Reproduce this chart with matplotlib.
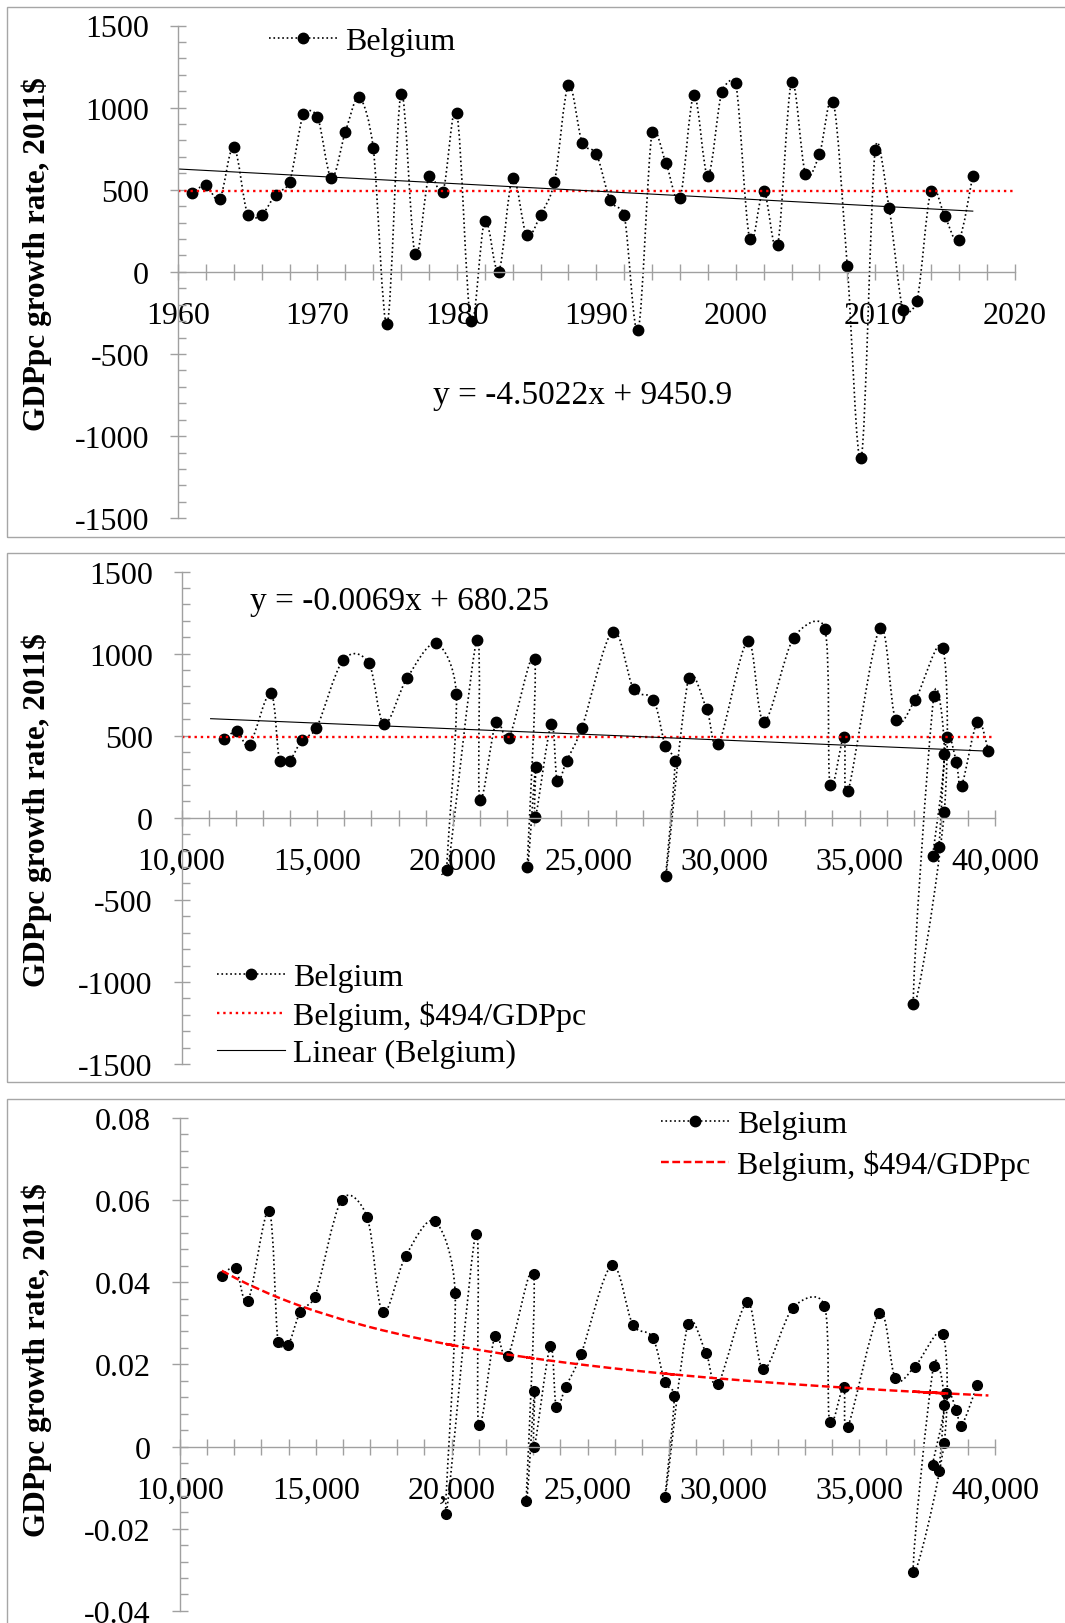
import numpy as np
import matplotlib
matplotlib.use('Agg')
import matplotlib.pyplot as plt
from matplotlib.path import Path
from matplotlib.patches import PathPatch, Rectangle
from matplotlib.lines import Line2D
from matplotlib.ticker import MultipleLocator

plt.rcParams['font.family'] = ['Liberation Serif', 'DejaVu Serif']
plt.rcParams['axes.unicode_minus'] = False

# ---- data ----
years = list(range(1961, 2018))
# GDPpc growth, 2011$ (1961..2018; the top panel stops at 2017)
growth = [478, 526, 446, 763, 348, 348, 471, 547, 960, 945,
          572, 851, 1062, 755, -318, 1085, 110, 581, 489, 965,
          -297, 312, 2, 572, 226, 347, 548, 1135, 782, 719,
          435, 347, -353, 850, 662, 448, 1076, 586, 1095, 1152,
          201, 495, 163, 1154, 598, 715, 1034, 33, -1133, 740,
          389, -233, -175, 494, 338, 195, 585, 408]
# GDPpc level, 2011$ (1961..2018)
gdppc = [11545, 12053, 12510, 13285, 13615, 13984, 14428, 14974, 15952, 16892,
         17464, 18314, 19381, 20130, 19800, 20892, 20993, 21590, 22073, 23020,
         22750, 23050, 23045, 23632, 23850, 24196, 24760, 25889, 26670, 27400,
         27836, 28194, 27862, 28695, 29362, 29797, 30874, 31475, 32566, 33717,
         33909, 34421, 34576, 35741, 36330, 37040, 38075, 38120, 36987, 37735,
         38125, 37703, 37920, 38207, 38570, 38760, 39342, 39750]
# growth relative to GDPpc (1961..2017)
rate = [0.0415, 0.0434, 0.0355, 0.0574, 0.0255, 0.0247, 0.0327, 0.0365, 0.0600, 0.0558,
        0.0327, 0.0464, 0.0548, 0.0374, -0.0163, 0.0518, 0.0052, 0.0268, 0.0221, 0.0420,
        -0.0133, 0.0135, 0.0000, 0.0244, 0.0097, 0.0145, 0.0224, 0.0441, 0.0296, 0.0265,
        0.0158, 0.0124, -0.0124, 0.0298, 0.0227, 0.0152, 0.0351, 0.0188, 0.0338, 0.0343,
        0.0059, 0.0146, 0.0048, 0.0325, 0.0166, 0.0194, 0.0273, 0.0008, -0.0306, 0.0197,
        0.0102, -0.0045, -0.0060, 0.0130, 0.0090, 0.0051, 0.0150]
benchmark = 494  # $494 per GDPpc

# trend lines as printed on the chart
trend1 = (-4.5022, 9450.9)
trend1_x = [1960, 2017]
trend2 = (-0.0069, 680.25)
trend2_x = [11070, 39750]

p1_xticks = [1960, 1970, 1980, 1990, 2000, 2010, 2020]
p12_yticks = [-1500, -1000, -500, 0, 500, 1000, 1500]
p23_xticks = [10000, 15000, 20000, 25000, 30000, 35000, 40000]
p23_xlabels = ['10,000', '15,000', '20,000', '25,000', '30,000', '35,000', '40,000']
p3_yticks = [-0.04, -0.02, 0, 0.02, 0.04, 0.06, 0.08]
p3_ylabels = ['-0.04', '-0.02', '0', '0.02', '0.04', '0.06', '0.08']

ylab = 'GDPpc growth rate, 2011$'

# ---- layout ----
W, H = 1065, 1624
GRAY = '#A0A0A0'
FS = 23
fig = plt.figure(figsize=(W / 100, H / 100), dpi=100)


def fx(px):
    return px / W


def fy(py):
    return 1 - py / H


def add_panel(left, right, top, bottom):
    return fig.add_axes([fx(left), fy(bottom), (right - left) / W, (bottom - top) / H])


def style_axes(ax, xminor, yminor):
    for s in ['top', 'right']:
        ax.spines[s].set_visible(False)
    ax.spines['bottom'].set_position(('data', 0))
    for s in ['left', 'bottom']:
        ax.spines[s].set_color(GRAY)
        ax.spines[s].set_linewidth(1.0)
    ax.xaxis.set_minor_locator(MultipleLocator(xminor))
    ax.yaxis.set_minor_locator(MultipleLocator(yminor))
    ax.tick_params(which='major', direction='inout', length=11.5, width=1.0,
                   color=GRAY, labelsize=FS, pad=15)
    ax.tick_params(axis='x', which='minor', direction='inout', length=11.5, width=1.0, color=GRAY)
    ax.tick_params(axis='y', which='minor', direction='in', length=5.8, width=1.0, color=GRAY)
    ax.patch.set_visible(False)


def smooth(ax, x, y, **kw):
    # Excel-like smoothed line: cubic Bezier through the points, worked out in
    # screen space, with each control arm capped at half the segment length
    pts = ax.transData.transform(np.column_stack([x, y]).astype(float))
    n = len(pts)
    verts = [pts[0]]
    codes = [Path.MOVETO]
    for i in range(n - 1):
        p0 = pts[max(i - 1, 0)]
        p1 = pts[i]
        p2 = pts[i + 1]
        p3 = pts[min(i + 2, n - 1)]
        d12 = np.hypot(*(p2 - p1))
        a = (p2 - p0) / 6
        b = (p3 - p1) / 6
        la, lb = np.hypot(*a), np.hypot(*b)
        if la > d12 / 2:
            a = a * (d12 / 2) / la
        if lb > d12 / 2:
            b = b * (d12 / 2) / lb
        verts += [p1 + a, p2 - b, p2]
        codes += [Path.CURVE4] * 3
    verts = ax.transData.inverted().transform(np.array(verts))
    ax.add_patch(PathPatch(Path(verts, codes), fill=False, **kw))


def border(top, bottom):
    fig.patches.append(Rectangle((fx(7), fy(bottom)), fx(1075) - fx(7), (bottom - top) / H,
                                 transform=fig.transFigure, fill=False, ec='#A6A6A6', lw=1.0))


dot_kw = dict(ec='black', lw=1.2, ls=':')
h_bel = Line2D([], [], color='black', lw=1.2, ls=':', marker='o', ms=7.5)
h_red = Line2D([], [], color='red', lw=1.7, ls=':')
h_red_dash = Line2D([], [], color='red', lw=1.75, ls=(0, (3.2, 1.45)))
h_lin = Line2D([], [], color='black', lw=0.8)
leg_kw = dict(frameon=False, fontsize=FS, borderpad=0, borderaxespad=0, handlelength=2.15,
              handletextpad=0.25, numpoints=1, bbox_transform=fig.transFigure, loc='center left')

border(8, 538)
border(554, 1083)
border(1100, 1700)

# ---- panel 1: growth vs year ----
ax1 = add_panel(178, 1014.6, 26.5, 519.3)
ax1.set_xlim(1960, 2020)
ax1.set_ylim(-1500, 1500)
n1 = len(years)
smooth(ax1, years, growth[:n1], **dot_kw)
ax1.plot(years, growth[:n1], 'o', color='black', ms=7.5)
ax1.axhline(benchmark, color='red', lw=1.7, ls=':')
t1 = np.array(trend1_x, dtype=float)
ax1.plot(t1, trend1[0] * t1 + trend1[1], color='black', lw=0.8)
ax1.set_xticks(p1_xticks)
ax1.set_yticks(p12_yticks)
style_axes(ax1, 2, 100)
ax1.legend([h_bel], ['Belgium'], bbox_to_anchor=(fx(268.6), fy(42.5)), **leg_kw)
fig.text(fx(433), fy(396), 'y = -4.5022x + 9450.9', fontsize=24, va='center', ha='left')

# ---- panel 2: growth vs GDPpc ----
ax2 = add_panel(181.6, 995.2, 572.6, 1065)
ax2.set_xlim(10000, 40000)
ax2.set_ylim(-1500, 1500)
smooth(ax2, gdppc, growth, **dot_kw)
ax2.plot(gdppc, growth, 'o', color='black', ms=7.5)
ax2.axhline(benchmark, color='red', lw=1.7, ls=':')
t2 = np.array(trend2_x, dtype=float)
ax2.plot(t2, trend2[0] * t2 + trend2[1], color='black', lw=0.8)
ax2.set_xticks(p23_xticks, p23_xlabels)
ax2.set_yticks(p12_yticks)
style_axes(ax2, 1000, 100)
ax2.legend([h_bel, h_red, h_lin], ['Belgium', 'Belgium, $494/GDPpc', 'Linear (Belgium)'],
           bbox_to_anchor=(fx(216.7), fy(1016.5)), labelspacing=0.26, **leg_kw)
fig.text(fx(249.7), fy(601.8), 'y = -0.0069x + 680.25', fontsize=24, va='center', ha='left')

# ---- panel 3: growth rate vs GDPpc ----
ax3 = add_panel(179.8, 995.2, 1118.8, 1611.9)
ax3.set_xlim(10000, 40000)
ax3.set_ylim(-0.04, 0.08)
n3 = len(rate)
smooth(ax3, gdppc[:n3], rate, **dot_kw)
ax3.plot(gdppc[:n3], rate, 'o', color='black', ms=7)
g = np.array(gdppc, dtype=float)
ax3.plot(g, benchmark / g, color='red', lw=1.75, ls=(0, (3.2, 1.45)))
ax3.set_xticks(p23_xticks, p23_xlabels)
ax3.set_yticks(p3_yticks, p3_ylabels)
style_axes(ax3, 1000, 0.004)
ax3.legend([h_bel, h_red_dash], ['Belgium', 'Belgium, $494/GDPpc'],
           bbox_to_anchor=(fx(660.7), fy(1146)), labelspacing=0.34, **leg_kw)

# axis titles
for yc in [254, 810, 1360.5]:
    fig.text(fx(37), fy(yc), ylab, rotation=90, fontsize=22.5, fontweight='bold',
             va='center', ha='center')

fig.savefig('out.png', dpi=100)
plt.close(fig)
